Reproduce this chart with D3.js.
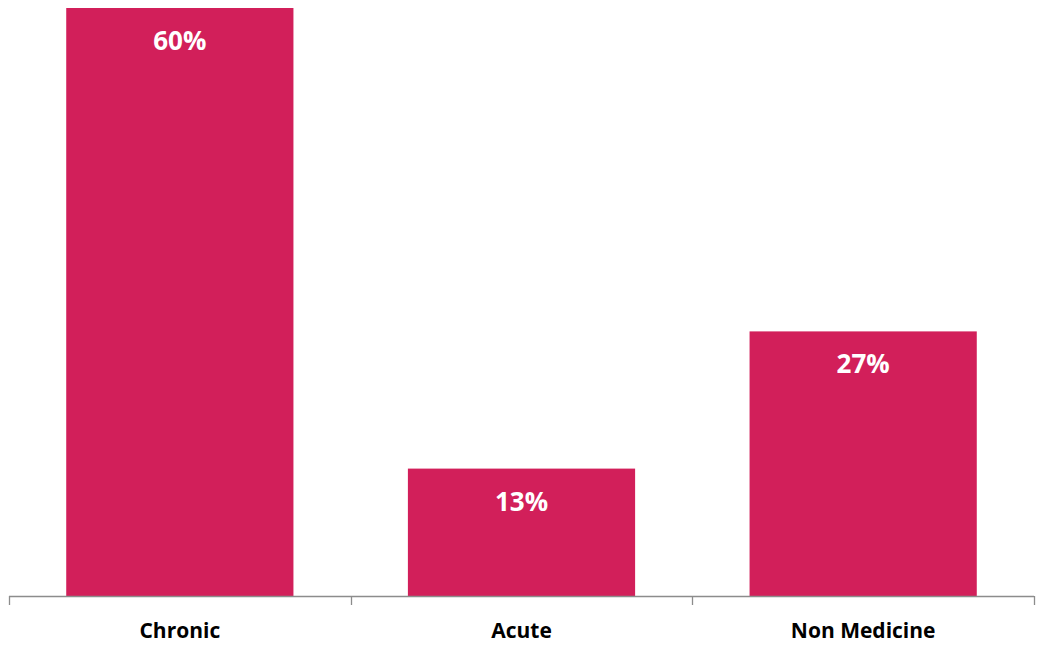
<!DOCTYPE html>
<html><head><meta charset="utf-8">
<script src="https://cdn.jsdelivr.net/npm/d3@7"></script>
<style>body{margin:0;background:#fff}svg{display:block}</style>
</head><body>
<svg id="c" width="1038" height="649"></svg>
<script>
const categories = ["Chronic", "Acute", "Non Medicine"];
const values = [60, 13, 27];
const valueLabels = ["60%", "13%", "27%"];

const svg = d3.select("#c");
const x = d3.scaleBand().domain(categories).range([9, 1034]).paddingInner(0.335).paddingOuter(0.1675);
const y = d3.scaleLinear().domain([0, 60]).range([596, 8]);

svg.selectAll("rect.bar").data(categories).join("rect")
  .attr("class","bar")
  .attr("x", d => x(d)).attr("width", x.bandwidth())
  .attr("y", (d,i) => y(values[i])).attr("height", (d,i) => y(0) - y(values[i]))
  .attr("fill", "#D21F5A");

svg.selectAll("text.val").data(categories).join("text")
  .attr("class","val")
  .attr("x", d => x(d) + x.bandwidth()/2)
  .attr("y", (d,i) => y(values[i]) + 35)
  .attr("text-anchor","middle")
  .attr("dominant-baseline","middle")
  .attr("fill","#fff")
  .style("font-family","'Open Sans', sans-serif")
  .style("font-weight","700")
  .style("font-size","26px")
  .text((d,i) => valueLabels[i]);

// axis
const xb = d3.scalePoint().domain(d3.range(categories.length+1)).range([9,1034]);
const g = svg.append("g");
g.append("line").attr("x1",9).attr("x2",1034).attr("y1",596.5).attr("y2",596.5).attr("stroke","#8c8c8c").attr("stroke-width",1.3);
g.selectAll("line.tick").data(xb.domain()).join("line").attr("class","tick")
  .attr("x1", d => Math.round(xb(d))+0.5).attr("x2", d => Math.round(xb(d))+0.5)
  .attr("y1",596).attr("y2",605).attr("stroke","#8c8c8c").attr("stroke-width",1.3);

svg.selectAll("text.cat").data(categories).join("text")
  .attr("class","cat")
  .attr("x", d => x(d) + x.bandwidth()/2)
  .attr("y", 632.5)
  .attr("text-anchor","middle")
  .attr("dominant-baseline","middle")
  .attr("fill","#000")
  .style("font-family","'Open Sans', sans-serif")
  .style("font-weight","700")
  .style("font-size","21px")
  .text(d => d);
</script>
</body></html>
